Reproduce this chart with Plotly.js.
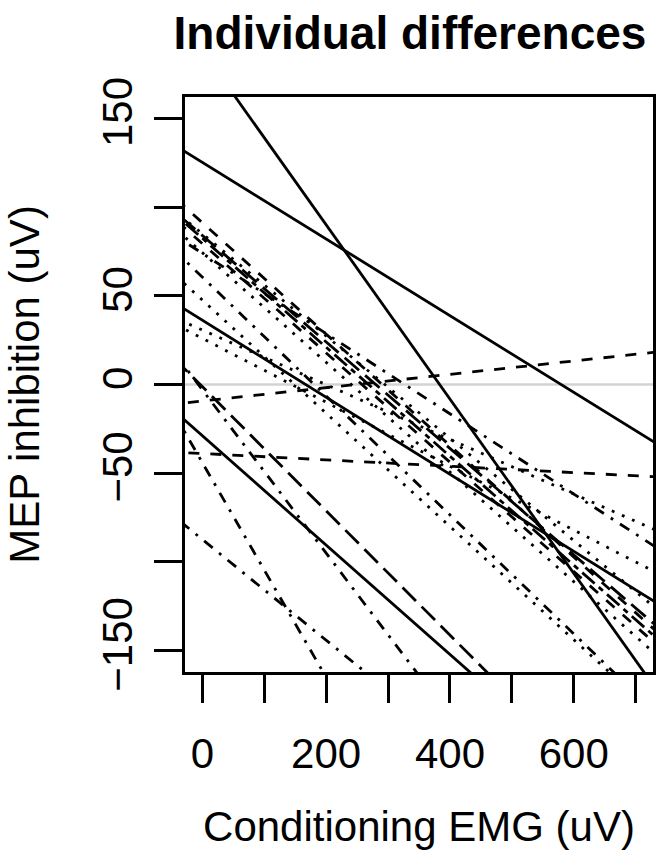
<!DOCTYPE html>
<html>
<head>
<meta charset="utf-8">
<script src="https://cdn.plot.ly/plotly-3.0.1.min.js"></script>
<style>html,body{margin:0;padding:0;background:#fff;}#plot{width:656px;height:866px;}</style>
</head>
<body>
<div id="plot"></div>
<script>
// Per-subject regression lines: MEP inhibition = intercept + slope * EMG
const subjects   = ["S1","S2","S3","S4","S5","S6","S7","S8","S9","S10","S11","S12","S13","S14","S15","S16","S17","S18","S19","S20","S21"];
const intercepts = [188.2, 125.2, 36.2, -28.9, -9.3, -38.9, 91.2, -44.0, -87.3, -3.0, 73.9, -1.2, 30.7, 26.0, 47.6, 84.9, 82.4, 79.4, 74.3, 60.5, 84.0];
const slopes     = [-0.491, -0.216, -0.217, -0.308, 0.0376, -0.0179, -0.314, -0.605, -0.284, -0.46, -0.226, -0.35, -0.154, -0.18, -0.319, -0.288, -0.307, -0.308, -0.309, -0.335, -0.30];
const lineTypes  = ["solid","solid","solid","solid","dashed","dashed","dashed","dotdash","dotdash","dotdash","dotdash","longdash","dotted","dotted","dotted","dotted","twodash","dashed","dotted","dotdash","longdash"];

const xTicks = [0, 100, 200, 300, 400, 500, 600, 700];
const xTickText = ["0", "", "200", "", "400", "", "600", ""];
const yTicks = [-150, -100, -50, 0, 50, 100, 150];
const yTickText = ["\u2212150", "", "\u221250", "0", "50", "", "150"];

const dashMap = {
  solid: "solid",
  dashed: "11px,11px",
  dotted: "2.8px,8.2px",
  dotdash: "2.8px,8.2px,11px,8.2px",
  longdash: "19px,8px",
  twodash: "5.5px,5.5px,16.5px,5.5px"
};

const xr = [-28, 728];
const yr = [-162, 162];
const xs = [-200, 900];

const traces = [];
traces.push({
  x: xs, y: [0, 0], mode: "lines", type: "scatter",
  line: {color: "#d3d3d3", width: 2.5}, hoverinfo: "skip", showlegend: false
});
subjects.forEach((s, i) => {
  traces.push({
    x: xs,
    y: xs.map(v => intercepts[i] + slopes[i] * v),
    mode: "lines", type: "scatter", name: s,
    line: {color: "#000", width: 2.8, dash: dashMap[lineTypes[i]]},
    showlegend: false
  });
});

const font = "Liberation Sans, Arial, Helvetica, sans-serif";
const layout = {
  width: 656, height: 866,
  margin: {l: 185, r: 3, t: 97, b: 194, pad: 0},
  paper_bgcolor: "#fff", plot_bgcolor: "#fff",
  showlegend: false,
  title: {
    text: "<b>Individual differences</b>",
    font: {family: font, size: 46, color: "#000"},
    xref: "container", x: 410/656, xanchor: "center",
    yref: "container", y: 1 - 33/866, yanchor: "middle"
  },
  xaxis: {
    range: xr, showgrid: false, zeroline: false,
    showline: true, mirror: true, linecolor: "#000", linewidth: 3,
    tickmode: "array", tickvals: xTicks, ticktext: xTickText,
    ticks: "outside", ticklen: 28, tickwidth: 3, tickcolor: "#000",
    ticklabelstandoff: 15,
    tickfont: {family: font, size: 42, color: "#000"},
    title: {text: "Conditioning EMG (uV)", font: {family: font, size: 42, color: "#000"}, standoff: 36},
    automargin: false
  },
  yaxis: {
    range: yr, showgrid: false, zeroline: false,
    showline: true, mirror: true, linecolor: "#000", linewidth: 3,
    tickmode: "array", tickvals: yTicks, ticktext: yTickText,
    ticks: "outside", ticklen: 28, tickwidth: 3, tickcolor: "#000",
    tickangle: -90, ticklabelstandoff: 5,
    tickfont: {family: font, size: 42, color: "#000"},
    title: {text: "MEP inhibition (uV)", font: {family: font, size: 42, color: "#000"}, standoff: 42},
    automargin: false
  }
};

Plotly.newPlot("plot", traces, layout, {displayModeBar: false, staticPlot: true});
</script>
</body>
</html>
